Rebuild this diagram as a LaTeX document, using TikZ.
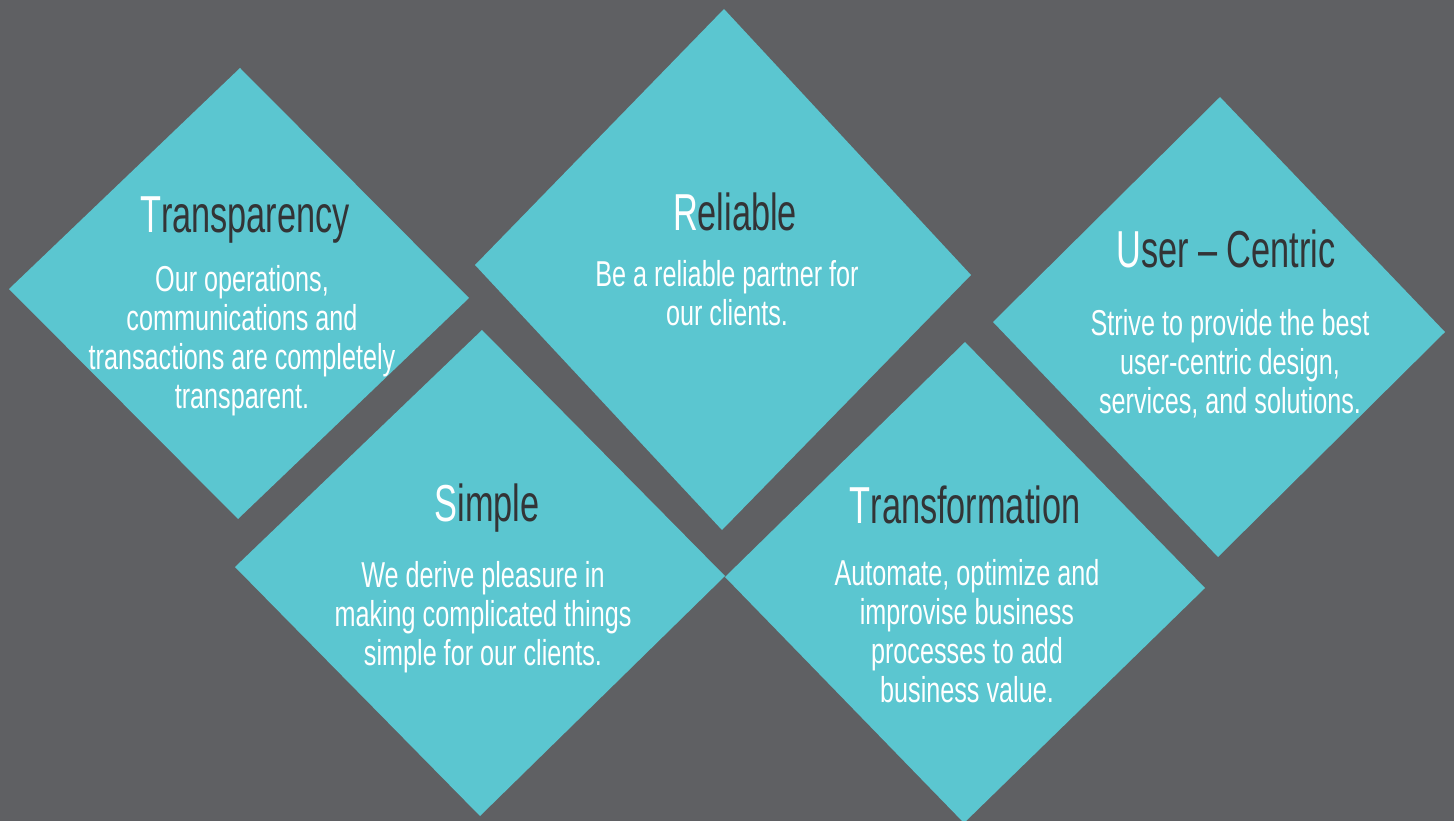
\documentclass[tikz,border=0pt]{standalone}
\usepackage{fontspec}
\setmainfont{Liberation Sans}[FakeStretch=0.66]
\newfontfamily\blurbfont{Liberation Sans}[FakeStretch=0.70]
\definecolor{slate}{HTML}{5F6063}
\definecolor{tealtile}{HTML}{5BC6D0}
\definecolor{inkgray}{HTML}{333436}
\tikzset{
  tile/.style={fill=tealtile},
  headline/.style={anchor=base, inner sep=0pt, text=inkgray, font=\fontsize{52}{56}\selectfont},
  blurb/.style={anchor=north, inner sep=0pt, align=center, text=white, font=\blurbfont\fontsize{36}{39}\selectfont}
}
\newcommand{\initial}[1]{\textcolor{white}{#1}}

\begin{document}
\begin{tikzpicture}[x=1pt,y=-1pt]
  \fill[slate] (0,0) rectangle (1454,821);
  \useasboundingbox (0,0) rectangle (1454,821);

  % tile corners
  \coordinate (TrN) at (240,68);   \coordinate (TrE) at (469,298);
  \coordinate (TrS) at (238,519);  \coordinate (TrW) at (9,289);
  \coordinate (ReN) at (724,9);    \coordinate (ReE) at (971,275);
  \coordinate (ReS) at (722,530);  \coordinate (ReW) at (475,265);
  \coordinate (UcN) at (1220,97);  \coordinate (UcE) at (1445,332);
  \coordinate (UcS) at (1218,557); \coordinate (UcW) at (993,322);
  \coordinate (SiN) at (482,330);  \coordinate (SiE) at (725,576);
  \coordinate (SiS) at (480,816);  \coordinate (SiW) at (235,567);
  \coordinate (TfN) at (965,342);  \coordinate (TfE) at (1205,588);
  \coordinate (TfS) at (964,823);  \coordinate (TfW) at (725,577);

  \fill[tile] (TrN) -- (TrE) -- (TrS) -- (TrW) -- cycle;
  \fill[tile] (ReN) -- (ReE) -- (ReS) -- (ReW) -- cycle;
  \fill[tile] (UcN) -- (UcE) -- (UcS) -- (UcW) -- cycle;
  \fill[tile] (SiN) -- (SiE) -- (SiS) -- (SiW) -- cycle;
  \fill[tile] (TfN) -- (TfE) -- (TfS) -- (TfW) -- cycle;

  % titles
  \node[headline] (trhead) at (245,233) {\initial{T}ransparency};
  \node[headline] (rehead) at (735,231) {\initial{R}eliable};
  \node[headline] (uchead) at (1226,267) {\initial{U}ser -- Centric};
  \node[headline] (sihead) at (487,521) {\initial{S}imple};
  \node[headline] (tfhead) at (965,523) {\initial{T}ransformation};

  % texts
  \node[blurb] (trtext) at (242,263.7) {\strut Our operations,\\communications and\\transactions are completely\\transparent.};
  \node[blurb] (retext) at (727,258.7) {\strut Be a reliable partner for\\our clients.};
  \node[blurb] (uctext) at (1230,307.7) {\strut Strive to provide the best\\user-centric design,\\services, and solutions.};
  \node[blurb] (sitext) at (483,559.7) {\strut We derive pleasure in\\making complicated things\\simple for our clients.};
  \node[blurb] (tftext) at (967,557.7) {\strut Automate, optimize and\\improvise business\\processes to add\\business value.};
\end{tikzpicture}
\end{document}
